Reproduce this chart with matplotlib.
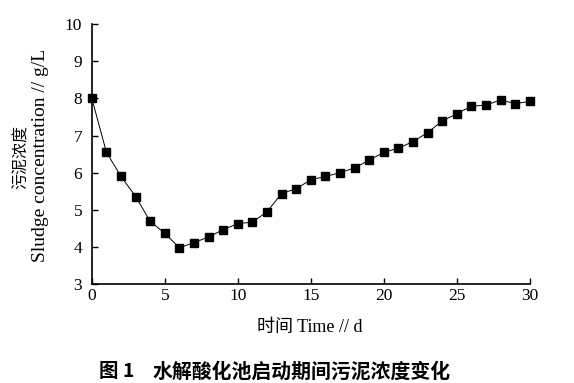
import matplotlib
matplotlib.use("agg")
import matplotlib.pyplot as plt

days = list(range(0, 31))
sludge = [8.00, 6.55, 5.90, 5.36, 4.69, 4.37, 3.98, 4.12, 4.27, 4.47,
          4.63, 4.67, 4.95, 5.44, 5.57, 5.81, 5.90, 6.00, 6.13, 6.34,
          6.55, 6.66, 6.84, 7.08, 7.39, 7.59, 7.79, 7.82, 7.96, 7.86, 7.92]

xticks = [0, 5, 10, 15, 20, 25, 30]
yticks = [3, 4, 5, 6, 7, 8, 9, 10]

plt.rcParams["font.family"] = ["Liberation Serif", "Noto Sans CJK SC"]
cjk = ["Noto Sans CJK SC", "Liberation Serif"]

fig = plt.figure(figsize=(5.74, 3.83), dpi=100)
ax = fig.add_axes([0.160, 0.258, 0.763, 0.679])

ax.plot(days, sludge, color="black", lw=0.7, marker="s", markersize=5.5,
        markerfacecolor="black", markeredgecolor="black", clip_on=False)

ax.set_xlim(0, 30)
ax.set_ylim(3, 10)
ax.set_xticks(xticks)
ax.set_yticks(yticks)
ax.spines["top"].set_visible(False)
ax.spines["right"].set_visible(False)
for s in ["left", "bottom"]:
    ax.spines[s].set_linewidth(1.2)
ax.tick_params(direction="in", length=4, width=1, labelsize=12.5)
ax.tick_params(axis="x", pad=3)
ax.tick_params(axis="y", pad=7)

# axis labels
fig.text(0.540, 0.144, "时间 Time // d", ha="center", va="center",
         fontsize=13)
fig.text(0.038, 0.590, "污泥浓度", rotation=90, ha="center", va="center",
         fontsize=11.5, family=cjk)
fig.text(0.071, 0.593, "Sludge concentration // g/L", rotation=90,
         ha="center", va="center", fontsize=14)

# caption
fig.text(0.172, 0.030, "图 1", ha="left", va="center",
         fontsize=14, fontweight="bold", family=cjk)
fig.text(0.266, 0.030, "水解酸化池启动期间污泥浓度变化", ha="left",
         va="center", fontsize=14.3, fontweight="bold", family=cjk)

plt.savefig("out.png", dpi=100)
